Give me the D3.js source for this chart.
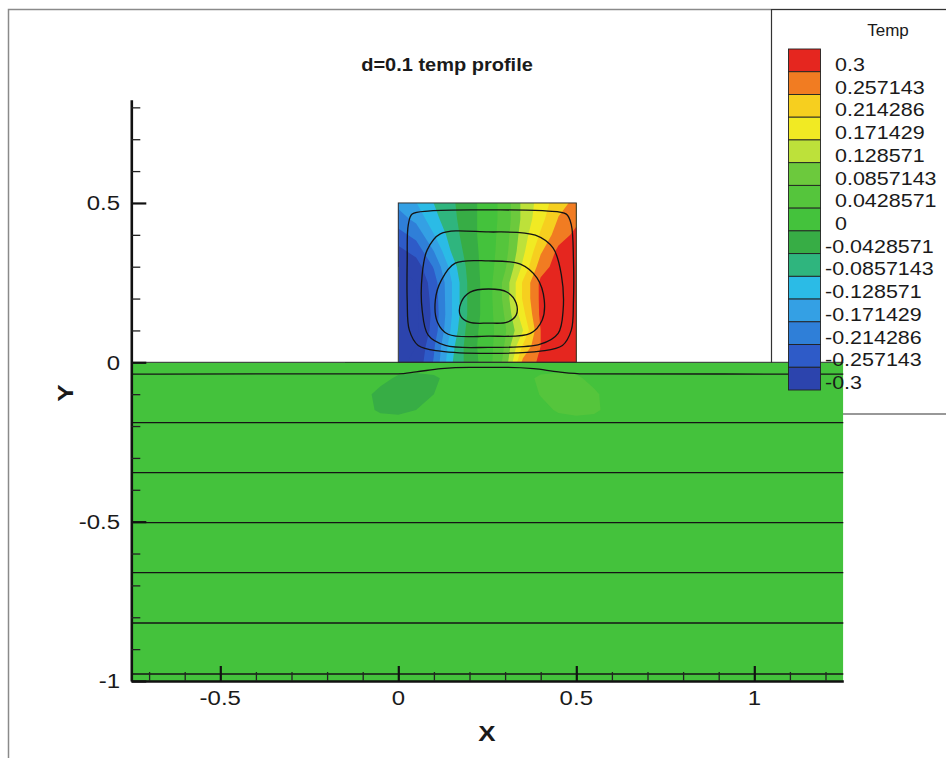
<!DOCTYPE html>
<html>
<head>
<meta charset="utf-8">
<script src="https://cdn.jsdelivr.net/npm/d3@7"></script>
<style>
  body { margin: 0; background: #fff; }
  svg { display: block; }
  text { font-family: "Liberation Sans", Arial, Helvetica, sans-serif; fill: #1a1a1a; }
</style>
</head>
<body>
<svg id="chart" width="946" height="758"></svg>
<script>
// ---- contour levels and legend ----
const levels = [-0.3, -0.257143, -0.214286, -0.171429, -0.128571, -0.0857143, -0.0428571,
                0, 0.0428571, 0.0857143, 0.128571, 0.171429, 0.214286, 0.257143, 0.3];
const levelLabels = ["-0.3", "-0.257143", "-0.214286", "-0.171429", "-0.128571", "-0.0857143", "-0.0428571",
                     "0", "0.0428571", "0.0857143", "0.128571", "0.171429", "0.214286", "0.257143", "0.3"];
const levelColors = ["#2c44ad", "#2e5bc8", "#2f7fd8", "#34a0e4", "#2bbbe6", "#2fb57e", "#37ad45",
                     "#44c23c", "#55c53c", "#6cc93d", "#bde13a", "#f1ea23", "#f6cf1f", "#f17c22", "#e5261f"];

// ---- temperature in the cavity (0<=x<=0.5, 0<=y<=0.5), rows from top (y=0.5) to bottom (y=0) ----
const boxXs = [0, 0.05, 0.1, 0.15, 0.2, 0.25, 0.3, 0.35, 0.4, 0.45, 0.5];
const boxYs = [0.5, 0.45, 0.4, 0.35, 0.3, 0.25, 0.2, 0.15, 0.1, 0.05, 0];
const boxTemp = [
  [-0.16, -0.13, -0.085, -0.05, -0.015, 0.02, 0.06, 0.14, 0.19, 0.24, 0.27],
  [-0.19, -0.16, -0.10,  -0.055, -0.015, 0.02, 0.06, 0.14, 0.20, 0.26, 0.29],
  [-0.23, -0.20, -0.13,  -0.065, -0.015, 0.02, 0.065, 0.15, 0.22, 0.28, 0.31],
  [-0.27, -0.24, -0.17,  -0.08, -0.02, 0.02, 0.07, 0.16, 0.25, 0.31, 0.33],
  [-0.30, -0.28, -0.21,  -0.11, -0.025, 0.02, 0.08, 0.18, 0.28, 0.32, 0.34],
  [-0.32, -0.30, -0.235, -0.13, -0.03, 0.02, 0.10, 0.22, 0.31, 0.33, 0.34],
  [-0.33, -0.31, -0.24,  -0.13, -0.03, 0.02, 0.10, 0.22, 0.31, 0.34, 0.34],
  [-0.33, -0.31, -0.245, -0.13, -0.03, 0.02, 0.09, 0.20, 0.31, 0.34, 0.34],
  [-0.33, -0.31, -0.24,  -0.12, -0.02, 0.02, 0.08, 0.17, 0.30, 0.34, 0.34],
  [-0.32, -0.30, -0.22,  -0.10, -0.015, 0.02, 0.09, 0.22, 0.30, 0.33, 0.34],
  [-0.31, -0.29, -0.21,  -0.09, -0.02, 0.02, 0.10, 0.27, 0.31, 0.33, 0.33]
];

// ---- temperature in the solid slab under the cavity (rows from y=0 down to y=-0.25) ----
const slabBaseTemp = 0.02;
const slabXs = [-0.15, -0.1, -0.05, 0, 0.05, 0.1, 0.15, 0.2, 0.25, 0.3, 0.35, 0.4, 0.45, 0.5, 0.55, 0.6, 0.65];
const slabYs = [0, -0.05, -0.1, -0.15, -0.2, -0.25];
const slabTemp = [
  [0.02, 0.02, 0.02, 0.02, 0.02, 0.02, 0.02, 0.02, 0.02, 0.02, 0.02, 0.02, 0.02, 0.02, 0.02, 0.02, 0.02],
  [0.02, 0.02, 0.01, -0.005, -0.01, -0.005, 0.01, 0.02, 0.02, 0.02, 0.03, 0.05, 0.055, 0.05, 0.03, 0.02, 0.02],
  [0.02, 0.01, -0.01, -0.012, -0.01, 0.0, 0.015, 0.02, 0.02, 0.02, 0.02, 0.045, 0.055, 0.058, 0.05, 0.025, 0.02],
  [0.02, 0.01, -0.005, -0.008, 0.0, 0.015, 0.02, 0.02, 0.02, 0.02, 0.02, 0.03, 0.048, 0.055, 0.05, 0.03, 0.02],
  [0.02, 0.02, 0.02, 0.02, 0.02, 0.02, 0.02, 0.02, 0.02, 0.02, 0.02, 0.02, 0.02, 0.02, 0.02, 0.02, 0.02],
  [0.02, 0.02, 0.02, 0.02, 0.02, 0.02, 0.02, 0.02, 0.02, 0.02, 0.02, 0.02, 0.02, 0.02, 0.02, 0.02, 0.02]
];

// ---- streamlines ----
const slabStreamY = [-0.189, -0.346, -0.503, -0.66, -0.818, -0.978];
const slabTopStream = [[-0.75, -0.037], [0, -0.036], [0.05, -0.03], [0.12, -0.02], [0.2, -0.016],
                       [0.3, -0.016], [0.38, -0.02], [0.45, -0.03], [0.52, -0.036], [1.25, -0.037]];
const cellLoops = [
  [[0.039, 0.465], [0.090, 0.475], [0.253, 0.478], [0.413, 0.475], [0.472, 0.465], [0.486, 0.431],
   [0.492, 0.321], [0.492, 0.195], [0.486, 0.101], [0.461, 0.053], [0.399, 0.035], [0.253, 0.028],
   [0.118, 0.035], [0.056, 0.053], [0.031, 0.101], [0.025, 0.195], [0.025, 0.321], [0.028, 0.431]],
  [[0.118, 0.403], [0.253, 0.409], [0.385, 0.399], [0.435, 0.358], [0.458, 0.274], [0.463, 0.164],
   [0.449, 0.091], [0.399, 0.057], [0.253, 0.047], [0.132, 0.053], [0.084, 0.085], [0.067, 0.164],
   [0.067, 0.274], [0.081, 0.352]],
  [[0.160, 0.311], [0.253, 0.318], [0.343, 0.308], [0.390, 0.264], [0.410, 0.195], [0.404, 0.132],
   [0.371, 0.091], [0.253, 0.082], [0.140, 0.088], [0.110, 0.126], [0.104, 0.195], [0.121, 0.258]],
  [[0.253, 0.230], [0.306, 0.220], [0.331, 0.186], [0.331, 0.148], [0.306, 0.126], [0.253, 0.123],
   [0.199, 0.126], [0.174, 0.148], [0.177, 0.189], [0.202, 0.220]]
];

// ---- axes ----
const xMajor = [-0.5, 0, 0.5, 1];
const xMinor = [-0.7, -0.6, -0.4, -0.3, -0.2, -0.1, 0.1, 0.2, 0.3, 0.4, 0.6, 0.7, 0.8, 0.9, 1.1, 1.2];
const xLabels = ["-0.5", "0", "0.5", "1"];
const yMajor = [-1, -0.5, 0, 0.5];
const yMinor = [-0.9, -0.8, -0.7, -0.6, -0.4, -0.3, -0.2, -0.1, 0.1, 0.2, 0.3, 0.4, 0.6, 0.7, 0.8];
const yLabels = ["-1", "-0.5", "0", "0.5"];

const svg = d3.select("#chart");
const x = d3.scaleLinear().domain([-0.75, 1.25]).range([131.3, 843.3]);
const y = d3.scaleLinear().domain([-1, 0.824]).range([681, 99.7]);

const colorFor = v => levelColors[Math.max(0, Math.min(levels.length - 1, d3.bisectRight(levels, v) - 1))];

// squished text helper (the figure's type is slightly compressed vertically)
function label(g, str, px, py, size, sy, anchor, weight) {
  return g.append("text")
    .attr("transform", `translate(${px},${py}) scale(1,${sy})`)
    .attr("text-anchor", anchor)
    .attr("font-size", size)
    .attr("font-weight", weight || "normal")
    .text(str);
}

// ---- outer frame and legend frame ----
svg.append("path").attr("d", `M8.5,758 V9.5 H946`).attr("fill", "none").attr("stroke", "#8a8a8a").attr("stroke-width", 1.5);
svg.append("path").attr("d", `M946,9.5 H771.5 V414 H946`).attr("fill", "none").attr("stroke", "#333").attr("stroke-width", 1.2);

const defs = svg.append("defs");
defs.append("clipPath").attr("id", "clip-slab").append("rect")
  .attr("x", x(-0.75)).attr("y", y(0)).attr("width", x(1.25) - x(-0.75)).attr("height", y(-1) - y(0));
defs.append("clipPath").attr("id", "clip-box").append("rect")
  .attr("x", x(0)).attr("y", y(0.5)).attr("width", x(0.5) - x(0)).attr("height", y(0) - y(0.5));
// the slab patch is only drawn over its node extent, so the outer cell edges stay hidden
defs.append("clipPath").attr("id", "clip-patch").append("rect")
  .attr("x", Math.round(x(slabXs[0]))).attr("y", Math.round(y(slabYs[0])))
  .attr("width", Math.round(x(slabXs[slabXs.length - 1])) - Math.round(x(slabXs[0])))
  .attr("height", Math.round(y(slabYs[slabYs.length - 1])) - Math.round(y(slabYs[0])));

// grid-space contours -> data space -> pixels
function gridPath(xs, ys) {
  const dx = xs[1] - xs[0], dy = ys[1] - ys[0];
  return d3.geoPath(d3.geoTransform({
    point(gx, gy) { this.stream.point(x(xs[0] + (gx - 0.5) * dx), y(ys[0] + (gy - 0.5) * dy)); }
  }));
}
function floodContours(g, xs, ys, grid) {
  const values = grid.flat();
  const bands = d3.contours().size([xs.length, ys.length]).thresholds(levels)(values);
  const path = gridPath(xs, ys);
  g.selectAll(null).data(bands).join("path")
    .attr("d", path)
    .attr("fill", d => colorFor(d.value));
}

// ---- slab flood ----
const slab = svg.append("g").attr("clip-path", "url(#clip-slab)");
slab.append("rect").attr("x", x(-0.75)).attr("y", y(0)).attr("width", x(1.25) - x(-0.75)).attr("height", y(-1) - y(0))
  .attr("fill", colorFor(slabBaseTemp));
floodContours(slab.append("g").attr("clip-path", "url(#clip-patch)"), slabXs, slabYs, slabTemp);

// ---- cavity flood ----
const box = svg.append("g").attr("clip-path", "url(#clip-box)");
box.append("rect").attr("x", x(0)).attr("y", y(0.5)).attr("width", x(0.5) - x(0)).attr("height", y(0) - y(0.5))
  .attr("fill", levelColors[0]);
floodContours(box, boxXs, boxYs, boxTemp);

// ---- streamlines ----
const lines = svg.append("g").attr("fill", "none").attr("stroke", "#141414").attr("stroke-width", 1.3);
const open = d3.line().x(d => x(d[0])).y(d => y(d[1])).curve(d3.curveMonotoneX);
const closed = d3.line().x(d => x(d[0])).y(d => y(d[1])).curve(d3.curveCatmullRomClosed.alpha(0.5));
lines.selectAll(".flat").data(slabStreamY).join("path").attr("class", "flat")
  .attr("d", v => open([[-0.75, v], [1.25, v]]));
lines.append("path").attr("d", open(slabTopStream));
lines.selectAll(".loop").data(cellLoops).join("path").attr("class", "loop").attr("d", closed);

// cavity outline and slab top edge
svg.append("rect").attr("x", x(0)).attr("y", y(0.5)).attr("width", x(0.5) - x(0)).attr("height", y(0) - y(0.5))
  .attr("fill", "none").attr("stroke", "#333").attr("stroke-width", 1);
svg.append("line").attr("x1", x(-0.75)).attr("x2", x(1.25)).attr("y1", y(0)).attr("y2", y(0))
  .attr("stroke", "#2a2a2a").attr("stroke-width", 1);

// ---- axes (ticks point inward) ----
const axes = svg.append("g");
const yAxisMajor = axes.append("g").attr("transform", `translate(${x(-0.75)},0)`)
  .call(d3.axisLeft(y).tickValues(yMajor).tickSizeInner(-15).tickSizeOuter(0).tickFormat(""));
const yAxisMinor = axes.append("g").attr("transform", `translate(${x(-0.75)},0)`)
  .call(d3.axisLeft(y).tickValues(yMinor).tickSizeInner(-9).tickSizeOuter(0).tickFormat(""));
const xAxisMajor = axes.append("g").attr("transform", `translate(0,${y(-1)})`)
  .call(d3.axisBottom(x).tickValues(xMajor).tickSizeInner(-15).tickSizeOuter(0).tickFormat(""));
const xAxisMinor = axes.append("g").attr("transform", `translate(0,${y(-1)})`)
  .call(d3.axisBottom(x).tickValues(xMinor).tickSizeInner(-9).tickSizeOuter(0).tickFormat(""));
[yAxisMajor, xAxisMajor].forEach(a => {
  a.select(".domain").attr("stroke", "#111").attr("stroke-width", 2.6);
  a.selectAll(".tick line").attr("stroke", "#111").attr("stroke-width", 2.2);
});
[yAxisMinor, xAxisMinor].forEach(a => {
  a.select(".domain").remove();
  a.selectAll(".tick line").attr("stroke", "#222").attr("stroke-width", 1.3);
});

const tickText = svg.append("g");
yMajor.forEach((v, i) => label(tickText, yLabels[i], 120, y(v) + 7.2, 24, 0.82, "end"));
xMajor.forEach((v, i) => label(tickText, xLabels[i], x(v), 705, 24, 0.82, "middle"));

// axis titles and plot title
label(svg, "X", 487, 741, 26, 0.85, "middle", "bold");
svg.append("text")
  .attr("transform", `translate(73,393) scale(0.85,1) rotate(-90)`)
  .attr("text-anchor", "middle").attr("font-size", 26).attr("font-weight", "bold")
  .text("Y");
label(svg, "d=0.1 temp profile", 447, 71, 20, 0.88, "middle", "bold");

// ---- legend ----
const legend = svg.append("g");
label(legend, "Temp", 888, 36, 17, 1, "middle");
const order = d3.range(levels.length).reverse();
const band = d3.scaleBand().domain(order).range([49, 390]);
legend.selectAll("rect.sw").data(order).join("rect").attr("class", "sw")
  .attr("x", 788.5).attr("width", 32).attr("y", i => band(i)).attr("height", band.bandwidth())
  .attr("fill", i => levelColors[i]).attr("stroke", "#222").attr("stroke-width", 0.9);
order.forEach(i => {
  const neg = levels[i] < 0;
  label(legend, levelLabels[i], neg ? 825 : 835, band(i) + band.bandwidth() / 2 + 10.5, 21.5, 0.845, "start");
});
</script>
</body>
</html>
